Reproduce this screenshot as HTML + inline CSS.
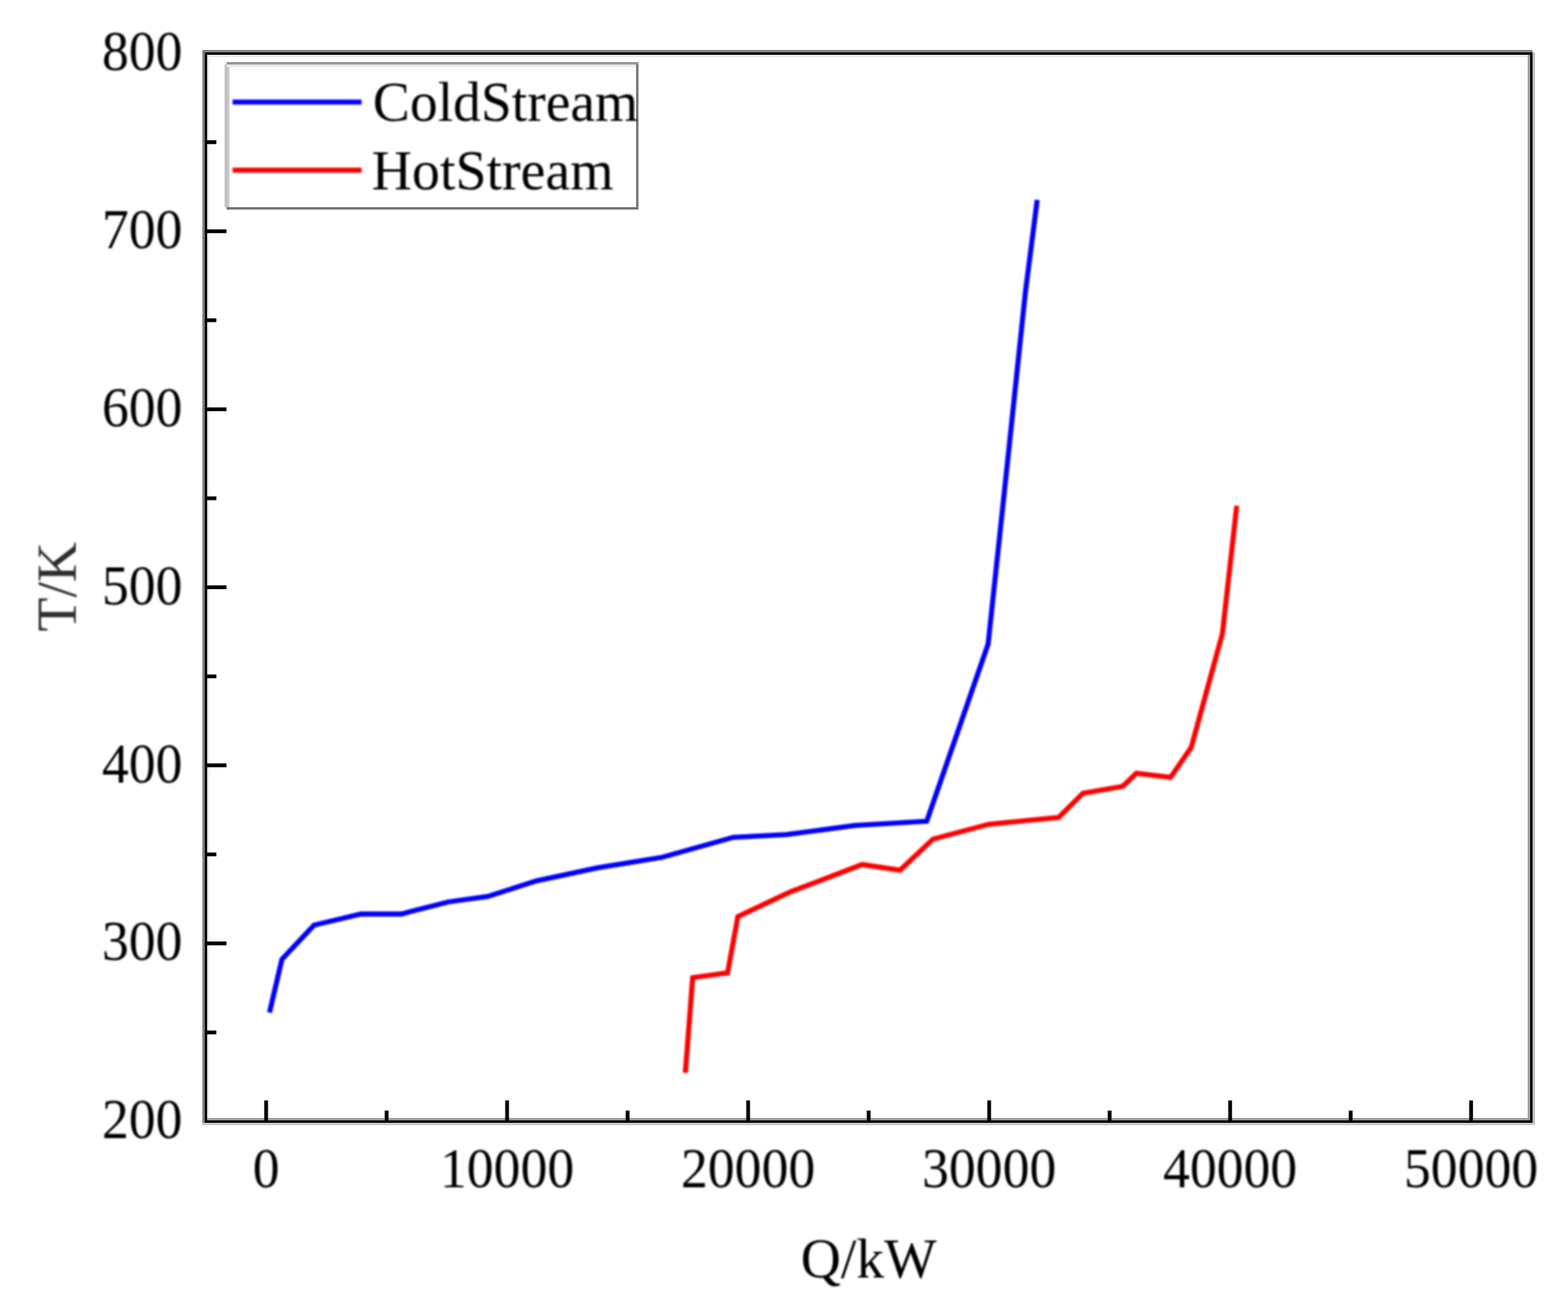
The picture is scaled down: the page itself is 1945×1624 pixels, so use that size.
<!DOCTYPE html>
<html lang="en"><head><meta charset="utf-8"><title>T-Q diagram</title>
<style>
html,body{margin:0;padding:0;background:#fff;}
body{width:1945px;height:1624px;overflow:hidden;}
svg{display:block;}
text{font-family:"Liberation Serif","Times New Roman",Times,serif;fill:#000;}
</style></head><body>
<svg width="1945" height="1624" viewBox="0 0 1945 1624">
<rect x="0" y="0" width="1945" height="1624" fill="#fff"/>
<defs>
<filter id="softB" filterUnits="userSpaceOnUse" x="0" y="0" width="1945" height="1624"><feGaussianBlur stdDeviation="1"/></filter>
</defs>
<g shape-rendering="crispEdges">
<rect x="257.1" y="65.0" width="2.9" height="1327.9" fill="rgb(236,236,236)"/>
<rect x="254.2" y="67.9" width="1646.7" height="2.9" fill="rgb(233,233,233)"/>
<rect x="1900.9" y="65.0" width="2.9" height="1330.8" fill="rgb(190,190,190)"/>
<rect x="251.1" y="1392.9" width="1652.7" height="2.9" fill="rgb(200,200,200)"/>
<rect x="251.1" y="62.0" width="3.1" height="1330.9" fill="rgb(128,128,128)"/>
<rect x="251.1" y="62.0" width="1649.8" height="3.0" fill="rgb(128,128,128)"/>
<rect x="1895.2" y="65.0" width="2.9" height="1327.9" fill="rgb(163,163,163)"/>
<rect x="254.2" y="1387.1" width="1646.7" height="3.0" fill="rgb(155,155,155)"/>
<rect x="254.2" y="65.0" width="2.9" height="1327.9" fill="rgb(0,0,0)"/>
<rect x="254.2" y="65.0" width="1646.7" height="2.9" fill="rgb(0,0,0)"/>
<rect x="1898.1" y="65.0" width="2.8" height="1327.9" fill="rgb(0,0,0)"/>
<rect x="254.2" y="1390.1" width="1646.7" height="2.8" fill="rgb(0,0,0)"/>
</g>
<g stroke="#000" stroke-width="4.7" fill="none">
<line x1="254.9" y1="1280.9" x2="268.4" y2="1280.9"/>
<line x1="254.9" y1="1170.4" x2="280.9" y2="1170.4"/>
<line x1="254.9" y1="1060.0" x2="268.4" y2="1060.0"/>
<line x1="254.9" y1="949.5" x2="280.9" y2="949.5"/>
<line x1="254.9" y1="839.1" x2="268.4" y2="839.1"/>
<line x1="254.9" y1="728.6" x2="280.9" y2="728.6"/>
<line x1="254.9" y1="618.2" x2="268.4" y2="618.2"/>
<line x1="254.9" y1="507.8" x2="280.9" y2="507.8"/>
<line x1="254.9" y1="397.3" x2="268.4" y2="397.3"/>
<line x1="254.9" y1="286.9" x2="280.9" y2="286.9"/>
<line x1="254.9" y1="176.4" x2="268.4" y2="176.4"/>
<line x1="330.1" y1="1391.3" x2="330.1" y2="1365.3"/>
<line x1="479.6" y1="1391.3" x2="479.6" y2="1377.8"/>
<line x1="629.0" y1="1391.3" x2="629.0" y2="1365.3"/>
<line x1="778.5" y1="1391.3" x2="778.5" y2="1377.8"/>
<line x1="928.0" y1="1391.3" x2="928.0" y2="1365.3"/>
<line x1="1077.5" y1="1391.3" x2="1077.5" y2="1377.8"/>
<line x1="1227.0" y1="1391.3" x2="1227.0" y2="1365.3"/>
<line x1="1376.4" y1="1391.3" x2="1376.4" y2="1377.8"/>
<line x1="1525.9" y1="1391.3" x2="1525.9" y2="1365.3"/>
<line x1="1675.4" y1="1391.3" x2="1675.4" y2="1377.8"/>
<line x1="1824.8" y1="1391.3" x2="1824.8" y2="1365.3"/>
</g>
<g filter="url(#softB)">
<polyline points="334.3,1256.3 349.7,1190.2 389.5,1147.8 447.8,1134.0 497.6,1134.0 556.0,1119.0 605.0,1112.2 665.5,1092.8 740.0,1076.8 821.7,1063.5 909.6,1038.8 976.0,1035.4 1060.0,1024.2 1149.6,1018.8 1225.7,799.0 1248.0,590.0 1272.0,362.0 1286.6,248.0" fill="none" stroke="#0000ff" stroke-width="6.3" stroke-linejoin="miter"/>
<polyline points="850.1,1331.0 859.2,1213.0 902.5,1206.9 915.3,1137.2 980.0,1106.6 1069.5,1072.6 1116.5,1079.6 1157.4,1041.0 1226.8,1022.5 1313.2,1014.2 1343.3,984.1 1392.7,975.6 1409.6,959.4 1452.0,964.5 1477.6,927.3 1516.3,786.1 1534.1,627.5" fill="none" stroke="#ff0000" stroke-width="6.3" stroke-linejoin="miter"/>
</g>
<g shape-rendering="crispEdges">
<rect x="278.3" y="77.1" width="513.8" height="183.3" fill="rgb(255,255,255)"/>
<rect x="278.0" y="80.0" width="1.0" height="177.3" fill="rgb(228,228,228)"/>
<rect x="279.0" y="80.0" width="1.0" height="177.3" fill="rgb(196,196,196)"/>
<rect x="280.0" y="80.0" width="1.0" height="177.3" fill="rgb(186,186,186)"/>
<rect x="281.0" y="80.0" width="1.0" height="177.3" fill="rgb(198,198,198)"/>
<rect x="282.0" y="80.0" width="1.0" height="177.3" fill="rgb(198,198,198)"/>
<rect x="283.0" y="80.0" width="1.0" height="177.3" fill="rgb(198,198,198)"/>
<rect x="284.0" y="80.0" width="1.0" height="177.3" fill="rgb(226,226,226)"/>
<rect x="285.0" y="80.0" width="1.0" height="177.3" fill="rgb(250,250,250)"/>
<rect x="281.3" y="80.0" width="507.7" height="2.8" fill="rgb(232,232,232)"/>
<rect x="281.3" y="77.1" width="510.8" height="2.9" fill="rgb(150,150,150)"/>
<rect x="789.0" y="80.0" width="3.1" height="180.4" fill="rgb(122,122,122)"/>
<rect x="281.3" y="257.3" width="510.8" height="3.1" fill="rgb(116,116,116)"/>
</g>
<g filter="url(#softB)">
<line x1="288.5" y1="126.6" x2="448.5" y2="126.6" stroke="#0000ff" stroke-width="6.3"/>
<line x1="288.5" y1="211.1" x2="448.5" y2="211.1" stroke="#ff0000" stroke-width="6.3"/>
<text transform="translate(462.6 150.2)" font-size="70.5" textLength="329" lengthAdjust="spacingAndGlyphs">ColdStream</text>
<text transform="translate(461.1 235.3)" font-size="70.5" textLength="300" lengthAdjust="spacingAndGlyphs">HotStream</text>
<text transform="translate(226.3 1412.3) scale(0.9447 1)" font-size="70.5" text-anchor="end">200</text>
<text transform="translate(226.3 1191.4) scale(0.9447 1)" font-size="70.5" text-anchor="end">300</text>
<text transform="translate(226.3 970.5) scale(0.9447 1)" font-size="70.5" text-anchor="end">400</text>
<text transform="translate(226.3 749.6) scale(0.9447 1)" font-size="70.5" text-anchor="end">500</text>
<text transform="translate(226.3 528.8) scale(0.9447 1)" font-size="70.5" text-anchor="end">600</text>
<text transform="translate(226.3 307.9) scale(0.9447 1)" font-size="70.5" text-anchor="end">700</text>
<text transform="translate(226.3 87.0) scale(0.9447 1)" font-size="70.5" text-anchor="end">800</text>
<text transform="translate(330.1 1473.0) scale(0.9447 1)" font-size="70.5" text-anchor="middle">0</text>
<text transform="translate(629.0 1473.0) scale(0.9447 1)" font-size="70.5" text-anchor="middle">10000</text>
<text transform="translate(928.0 1473.0) scale(0.9447 1)" font-size="70.5" text-anchor="middle">20000</text>
<text transform="translate(1227.0 1473.0) scale(0.9447 1)" font-size="70.5" text-anchor="middle">30000</text>
<text transform="translate(1525.9 1473.0) scale(0.9447 1)" font-size="70.5" text-anchor="middle">40000</text>
<text transform="translate(1824.8 1473.0) scale(0.9447 1)" font-size="70.5" text-anchor="middle">50000</text>
<text transform="translate(1077.5 1585.0) scale(0.9787 1)" font-size="70.5" text-anchor="middle">Q/kW</text>
<text transform="translate(93.8 727.9) rotate(-90) scale(0.9787 1)" font-size="70.5" text-anchor="middle" style="fill:#2e2e2e">T/K</text>
</g>
</svg>
</body></html>
